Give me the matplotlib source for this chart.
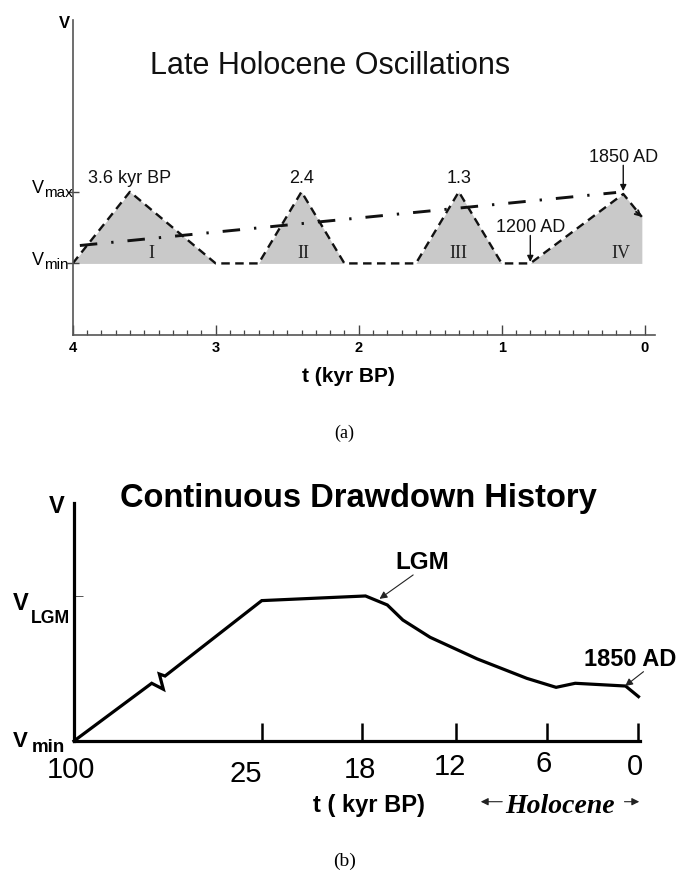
import numpy as np
import matplotlib
matplotlib.use("Agg")
import matplotlib.pyplot as plt
from matplotlib.transforms import ScaledTranslation
from matplotlib.patches import FancyArrowPatch

plt.rcParams["font.family"] = ["Liberation Sans", "DejaVu Sans"]

# ---------------- data: (a) late Holocene oscillations ----------------
osc_t = [4.0, 3.6, 3.0, 2.7, 2.4, 2.1, 1.6, 1.3, 1.0, 0.8, 0.15, 0.02]   # kyr BP
osc_v = [0.0, 1.0, 0.0, 0.0, 1.0, 0.0, 0.0, 1.0, 0.0, 0.0, 0.97, 0.65]   # V (Vmin=0, Vmax=1)
trend_t = [3.95, 0.2]
trend_v = [0.25, 0.99]
peak_t = [3.6, 2.4, 1.3]
peak_labels = ["3.6 kyr BP", "2.4", "1.3"]
stage_t = [3.45, 2.39, 1.3, 0.165]
stage_names = ["I", "II", "III", "IV"]
event_t = [0.8, 0.15]
event_labels = ["1200 AD", "1850 AD"]
a_ticks = [4, 3, 2, 1, 0]
a_minor = [i / 10 for i in range(1, 40) if i % 10]

# ---------------- data: (b) continuous drawdown history ----------------
draw_t = [100, 68.96, 64.32, 65.92, 63.64, 25, 17.8, 16.4, 15.4, 13.65, 10.6, 7.35, 5.43, 4.17, 0.85, 0]
draw_v = [0.0, 0.398, 0.357, 0.462, 0.448, 0.968, 1.0, 0.938, 0.834, 0.715, 0.566, 0.432, 0.370, 0.398, 0.379, 0.306]
b_ticks = [100, 25, 18, 12, 6, 0]
b_ticklabels = ["100", "25", "18", "12", "6", "0"]

# broken time axis: piecewise-linear spacing between the labelled ages
b_anchor_t = np.array([-1, 0, 6, 12, 18, 25, 100], dtype=float)
b_anchor_d = np.array([-15.2, 0.0, 91.0, 182.6, 276.0, 376.6, 564.3])


def fwd(t):
    return np.interp(t, b_anchor_t, b_anchor_d)


def inv(d):
    return np.interp(d, b_anchor_d, b_anchor_t)


W, H = 677, 873
fig = plt.figure(figsize=(W / 100, H / 100), dpi=100)


def fx(x):
    return x / W


def fy(y):
    return 1 - y / H


# ======================= panel (a) =======================
ax_a = fig.add_axes([fx(72.7), fy(335), (655 - 72.7) / W, (335 - 20) / H])
ax_a.set_xlim(4, -0.072)
ax_a.set_ylim(-1.0, 3.40)
ax_a.fill_between(osc_t, osc_v, 0, color="#c9c9c9", lw=0)
ax_a.plot(osc_t, osc_v, color="#111111", lw=1.7, dashes=(3.6, 2.3))
ax_a.plot(trend_t, trend_v, color="#111111", lw=2.1, dashes=(6, 4.8, 0.8, 4.8))
ax_a.annotate("", xy=(osc_t[-1], osc_v[-1]), xytext=(0.06, 0.72),
              arrowprops=dict(arrowstyle="->", color="#111111", lw=1.4,
                              mutation_scale=9, shrinkA=0, shrinkB=0))

for sp in ("top", "right"):
    ax_a.spines[sp].set_visible(False)
for sp in ("left", "bottom"):
    ax_a.spines[sp].set_color("#555555")
    ax_a.spines[sp].set_linewidth(1.2)

ax_a.set_xticks(a_ticks)
ax_a.set_xticklabels([str(t) for t in a_ticks], fontweight="bold")
ax_a.set_xticks(a_minor, minor=True)
ax_a.tick_params(axis="x", which="major", direction="in", length=7, width=1.0,
                 color="#444444", labelsize=10.5, pad=4)
ax_a.tick_params(axis="x", which="minor", direction="in", length=3.5, width=0.9,
                 color="#444444")
ax_a.set_yticks([0, 1])
ax_a.tick_params(axis="y", direction="inout", length=8, width=1.0,
                 color="#444444", labelleft=False)

for t, lbl in zip(peak_t, peak_labels):
    ax_a.text(t, 1.12, lbl, ha="center", va="baseline", fontsize=13, color="#111111")
for t, lbl in zip(stage_t, stage_names):
    ax_a.text(t, 0.07, lbl, ha="center", va="baseline", fontsize=13,
              family=["Liberation Serif", "DejaVu Serif"], color="#222222")

# event markers with arrows
ax_a.text(event_t[0], 0.44, event_labels[0], ha="center", va="baseline", fontsize=13, color="#111111")
ax_a.annotate("", xy=(event_t[0], 0.02), xytext=(event_t[0], 0.39),
              arrowprops=dict(arrowstyle="-|>", color="#111111", lw=1.0,
                              mutation_scale=9, shrinkA=0, shrinkB=0))
ax_a.text(event_t[1], 1.42, event_labels[1], ha="center", va="baseline", fontsize=13, color="#111111")
ax_a.annotate("", xy=(event_t[1], 1.01), xytext=(event_t[1], 1.37),
              arrowprops=dict(arrowstyle="-|>", color="#111111", lw=1.0,
                              mutation_scale=9, shrinkA=0, shrinkB=0))

fig.text(fx(330), fy(74), "Late Holocene Oscillations", ha="center", va="baseline",
         fontsize=22, color="#111111")
fig.text(fx(64), fy(28), "V", ha="center", va="baseline", fontsize=12, fontweight="bold")
fig.text(fx(32), fy(193), "V", ha="left", va="baseline", fontsize=13)
fig.text(fx(44.5), fy(197), "max", ha="left", va="baseline", fontsize=11)
fig.text(fx(32), fy(265), "V", ha="left", va="baseline", fontsize=13)
fig.text(fx(44.5), fy(269), "min", ha="left", va="baseline", fontsize=11)
fig.text(fx(348), fy(382), "t (kyr BP)", ha="center", va="baseline", fontsize=15, fontweight="bold")
fig.text(fx(344), fy(438), "(a)", ha="center", va="baseline", fontsize=13,
         family=["Liberation Serif", "DejaVu Serif"])

# ======================= panel (b) =======================
ax_b = fig.add_axes([fx(74), fy(741), (640 - 74) / W, (741 - 503) / H])
ax_b.set_xscale("function", functions=(fwd, inv))
ax_b.set_xlim(100, -0.1)
ax_b.set_ylim(0, 1.641)
ax_b.plot(draw_t, draw_v, color="black", lw=2.3, solid_joinstyle="miter", clip_on=False)

for sp in ("top", "right"):
    ax_b.spines[sp].set_visible(False)
for sp in ("left", "bottom"):
    ax_b.spines[sp].set_color("black")
    ax_b.spines[sp].set_linewidth(2.3)

ax_b.set_xticks(b_ticks)
ax_b.tick_params(axis="x", direction="in", length=12.7, width=1.8, color="black",
                 labelbottom=False)
ax_b.set_yticks([1])
ax_b.tick_params(axis="y", direction="in", length=6.3, width=0.7, color="#555555",
                 labelleft=False)

# staggered age labels under the broken axis
label_dx = [-3, -16, -2, -6, -4, -4]
label_base = [778, 781.5, 778, 775, 771.5, 775]
for t, lbl, dx, by in zip(b_ticks, b_ticklabels, label_dx, label_base):
    tr = ax_b.get_xaxis_transform() + ScaledTranslation(dx / 100, -(by - 741) / 100,
                                                        fig.dpi_scale_trans)
    ax_b.text(t, 0, lbl, transform=tr, ha="center", va="baseline", fontsize=21)

ax_b.text(14.17, 1.228, "LGM", ha="center", va="center", fontsize=17.5, fontweight="bold")
ax_b.annotate("", xy=(16.9, 0.98), xytext=(14.74, 1.145), annotation_clip=False,
              arrowprops=dict(arrowstyle="-|>", color="#222222", lw=0.8,
                              mutation_scale=11, shrinkA=0, shrinkB=0))
ax_b.text(0.55, 0.559, "1850 AD", ha="center", va="center", fontsize=17,
          fontweight="bold", clip_on=False)
ax_b.annotate("", xy=(0.88, 0.379), xytext=(-0.33, 0.478), annotation_clip=False,
              arrowprops=dict(arrowstyle="-|>", color="#222222", lw=0.8,
                              mutation_scale=11, shrinkA=0, shrinkB=0))

fig.text(fx(358), fy(506.7), "Continuous Drawdown History", ha="center", va="baseline",
         fontsize=23.5, fontweight="bold")
fig.text(fx(56.7), fy(513.3), "V", ha="center", va="baseline", fontsize=17, fontweight="bold")
fig.text(fx(13.3), fy(610), "V", ha="left", va="baseline", fontsize=17, fontweight="bold")
fig.text(fx(30.7), fy(622.7), "LGM", ha="left", va="baseline", fontsize=12.7, fontweight="bold")
fig.text(fx(13.3), fy(746.7), "V", ha="left", va="baseline", fontsize=16, fontweight="bold")
fig.text(fx(31.7), fy(751.7), "min", ha="left", va="baseline", fontsize=13.5, fontweight="bold")
fig.text(fx(369), fy(812), "t ( kyr BP)", ha="center", va="baseline", fontsize=17, fontweight="bold")
fig.text(fx(560), fy(812.7), "Holocene", ha="center", va="baseline", fontsize=20,
         fontweight="bold", fontstyle="italic", family=["Liberation Serif", "DejaVu Serif"])
fig.add_artist(FancyArrowPatch(
    (fx(505), fy(801.7)), (fx(478), fy(801.7)), transform=fig.transFigure,
    arrowstyle="-|>", mutation_scale=11, lw=0.8, color="#222222"))
fig.add_artist(FancyArrowPatch(
    (fx(621.7), fy(801.7)), (fx(642), fy(801.7)), transform=fig.transFigure,
    arrowstyle="-|>", mutation_scale=11, lw=0.8, color="#222222"))
fig.text(fx(345), fy(866), "(b)", ha="center", va="baseline", fontsize=14,
         family=["Liberation Serif", "DejaVu Serif"])

fig.savefig("out.png", dpi=100)
